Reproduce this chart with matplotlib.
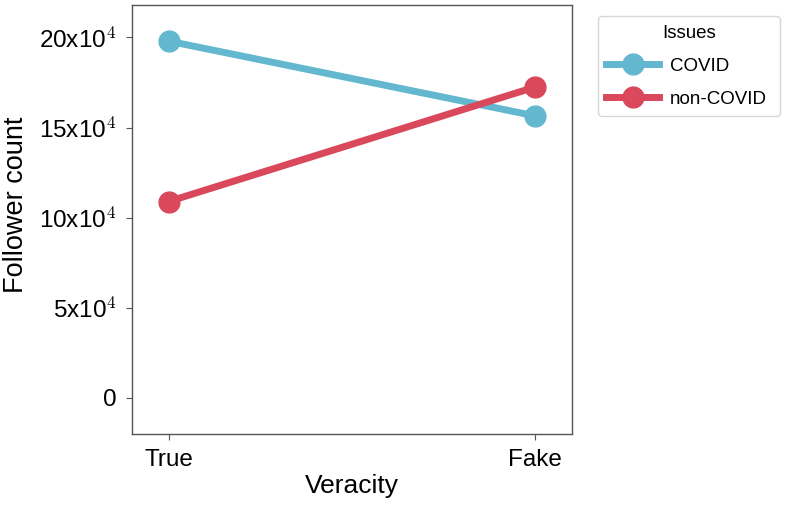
import matplotlib
matplotlib.use('Agg')
import matplotlib.pyplot as plt

plt.rcParams.update({
    'font.family': ['Liberation Sans', 'DejaVu Sans'],
    'mathtext.fontset': 'cm',
})

veracity = ['True', 'Fake']
covid = [19.8e4, 15.65e4]
non_covid = [10.9e4, 17.25e4]
issues = ['COVID', 'non-COVID']
colors = ['#63b8d0', '#d9485b']

yticks = [0, 5e4, 10e4, 15e4, 20e4]
yticklabels = ['0', r'5x10$^4$', r'10x10$^4$', r'15x10$^4$', r'20x10$^4$']

fig = plt.figure(figsize=(7.87, 5.05), dpi=100)
ax = fig.add_axes([0.1677, 0.1406, 0.5587, 0.8494])

x = range(len(veracity))
for vals, lab, c in zip([covid, non_covid], issues, colors):
    ax.plot(x, vals, '-o', color=c, lw=5, ms=15, label=lab)

ax.set_xlim(-0.1, 1.1)
ax.set_ylim(-2.0e4, 21.8e4)
ax.set_xticks(list(x))
ax.set_xticklabels(veracity, fontsize=17.5)
ax.set_yticks(yticks)
ax.set_yticklabels(yticklabels, fontsize=17.5)
ax.set_xlabel('Veracity', fontsize=19, labelpad=2)
ax.set_ylabel('Follower count', fontsize=19.5)
ax.yaxis.set_label_coords(-0.235, 0.534)

for s in ax.spines.values():
    s.set_color('#555555')
    s.set_linewidth(1)
ax.tick_params(color='#555555', length=4, width=0.8, pad=7)

leg = ax.legend(title='Issues', loc='upper left',
                bbox_to_anchor=(1.06, 0.5, 0.414, 0.474), mode='expand',
                borderaxespad=0, fontsize=13.5, title_fontsize=13.5,
                handlelength=2.8, handletextpad=0.6,
                borderpad=0.45, labelspacing=0.85, frameon=True)
leg.get_frame().set_edgecolor('#cccccc')

fig.savefig('out.png', dpi=100)
